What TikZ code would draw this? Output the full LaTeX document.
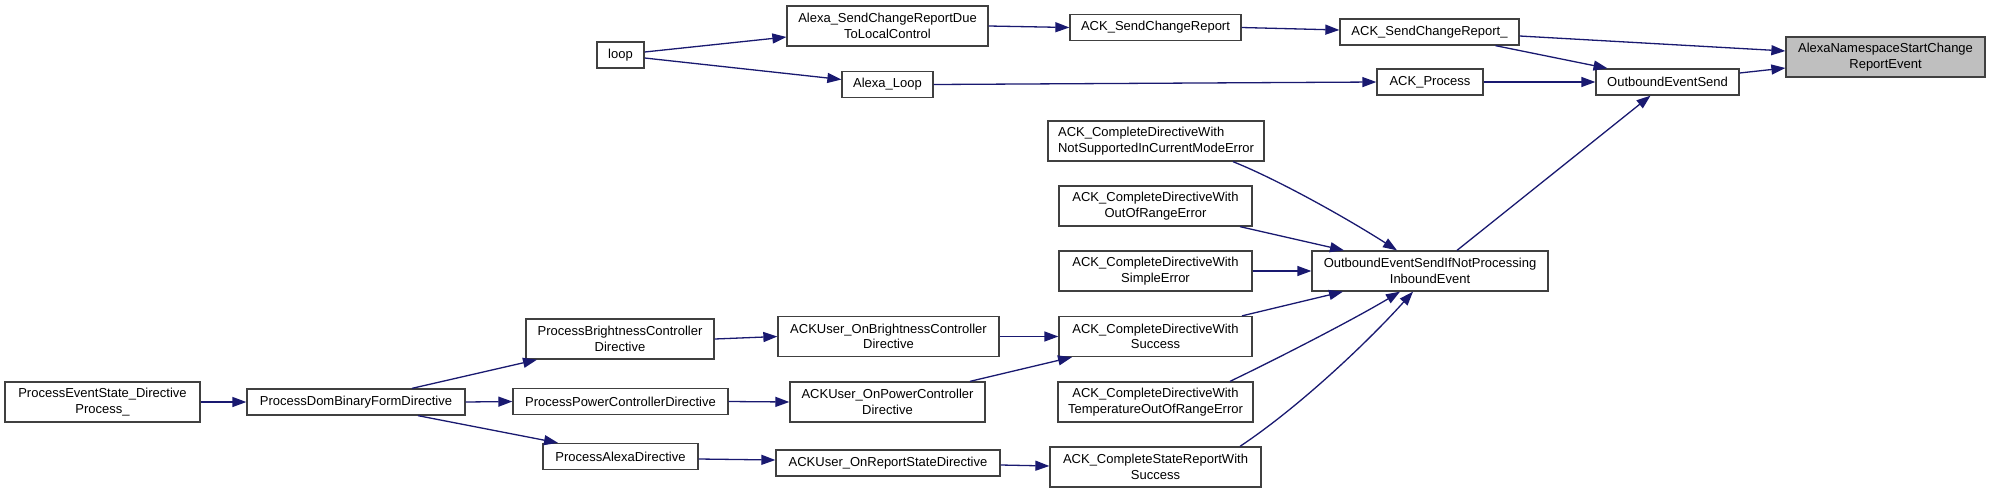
\documentclass[tikz,border=0pt]{standalone}
\usepackage{fontspec}
\setmainfont{Liberation Sans}
\usetikzlibrary{arrows.meta,calc}
\definecolor{edgeblue}{RGB}{25,25,112}
\definecolor{nodeborder}{RGB}{64,64,64}
\definecolor{tgtfill}{RGB}{191,191,191}
\tikzset{
  fn/.style={draw=nodeborder, fill=white, line width=1.3pt, inner sep=0pt,
    align=center, font=\fontsize{13}{15.5}\selectfont},
  tgt/.style={fn, fill=tgtfill},
  call/.style={draw=edgeblue, line width=1.3pt,
    -{Triangle[length=14pt,width=10pt]}, color=edgeblue},
}
\begin{document}
\begin{tikzpicture}[x=1pt,y=-1pt]
\useasboundingbox (0,0) rectangle (1991,493);
% nodes
\node[tgt, minimum width=199, minimum height=40] (tgt) at (1885.5,57) {AlexaNamespaceStartChange\\ReportEvent};
\node[fn, minimum width=143, minimum height=26] (oes) at (1667.5,82) {OutboundEventSend};
\node[fn, minimum width=179, minimum height=26] (scrU) at (1429.5,32) {ACK\_SendChangeReport\_};
\node[fn, minimum width=106, minimum height=26] (proc) at (1430,82) {ACK\_Process};
\node[fn, minimum width=171, minimum height=26] (scr) at (1155.5,27.5) {ACK\_SendChangeReport};
\node[fn, minimum width=201, minimum height=40] (asr) at (887.5,26) {Alexa\_SendChangeReportDue\\ToLocalControl};
\node[fn, minimum width=91, minimum height=26] (aloop) at (887.5,84.5) {Alexa\_Loop};
\node[fn, minimum width=47, minimum height=26] (loop) at (620.5,55) {loop};
\node[fn, minimum width=216, minimum height=40, align=left] (ns) at (1156,141) {ACK\_CompleteDirectiveWith\\NotSupportedInCurrentModeError};
\node[fn, minimum width=193, minimum height=40] (oor) at (1155.5,206) {ACK\_CompleteDirectiveWith\\OutOfRangeError};
\node[fn, minimum width=193, minimum height=40] (se) at (1155.5,271) {ACK\_CompleteDirectiveWith\\SimpleError};
\node[fn, minimum width=236, minimum height=40] (oesin) at (1430,271) {OutboundEventSendIfNotProcessing\\InboundEvent};
\node[fn, minimum width=193, minimum height=40] (suc) at (1155.5,336.5) {ACK\_CompleteDirectiveWith\\Success};
\node[fn, minimum width=195, minimum height=40] (temp) at (1155.5,402) {ACK\_CompleteDirectiveWith\\TemperatureOutOfRangeError};
\node[fn, minimum width=211, minimum height=40] (csr) at (1155.5,467) {ACK\_CompleteStateReportWith\\Success};
\node[fn, minimum width=221, minimum height=40] (ubr) at (888.5,336.5) {ACKUser\_OnBrightnessController\\Directive};
\node[fn, minimum width=195, minimum height=40] (upw) at (887.5,402) {ACKUser\_OnPowerController\\Directive};
\node[fn, minimum width=224, minimum height=26] (urs) at (888,463) {ACKUser\_OnReportStateDirective};
\node[fn, minimum width=188, minimum height=40] (pbr) at (620,339) {ProcessBrightnessController\\Directive};
\node[fn, minimum width=215, minimum height=26] (ppw) at (620.5,401.5) {ProcessPowerControllerDirective};
\node[fn, minimum width=155, minimum height=26] (pal) at (620.5,456.5) {ProcessAlexaDirective};
\node[fn, minimum width=218, minimum height=26] (pdb) at (356,402) {ProcessDomBinaryFormDirective};
\node[fn, minimum width=195, minimum height=40] (pes) at (102.5,402) {ProcessEventState\_Directive\\Process\_};
% edges
\draw[call] ([shift={(0,4)}]scrU.east) -- ([shift={(0,-6)}]tgt.west);
\draw[call] ([shift={(0,-9)}]oes.east) -- ([shift={(0,11)}]tgt.west);
\draw[call] ([shift={(66,0)}]scrU.south) -- ([shift={(-60,0)}]oes.north);
\draw[call] (proc.east) -- (oes.west);
\draw[call] (scr.east) -- ([shift={(0,-2)}]scrU.west);
\draw[call] (asr.east) -- (scr.west);
\draw[call] ([shift={(0,-3)}]loop.east) -- ([shift={(0,11)}]asr.west);
\draw[call] ([shift={(0,3)}]loop.east) -- ([shift={(0,-5)}]aloop.west);
\draw[call] (aloop.east) -- (proc.west);
\draw[call] ([shift={(27,0)}]oesin.north) -- ([shift={(-17,0)}]oes.south);
\draw[call] ([shift={(77,0)}]ns.south) .. controls +(45,18) and +(-50,-32) .. ([shift={(-33,0)}]oesin.north);
\draw[call] ([shift={(84.5,0)}]oor.south) -- ([shift={(-86,0)}]oesin.north);
\draw[call] (se.east) -- (oesin.west);
\draw[call] ([shift={(86.5,0)}]suc.north) -- ([shift={(-87,0)}]oesin.south);
\draw[call] ([shift={(74.5,0)}]temp.north) .. controls +(50,-24) and +(-45,27) .. ([shift={(-30,0)}]oesin.south);
\draw[call] ([shift={(84.5,0)}]csr.north) .. controls +(60,-40) and +(-45,50) .. ([shift={(-17,0)}]oesin.south);
\draw[call] (ubr.east) -- (suc.west);
\draw[call] ([shift={(82.5,0)}]upw.north) -- ([shift={(-83.5,0)}]suc.south);
\draw[call] ([shift={(0,2)}]urs.east) -- ([shift={(0,-1)}]csr.west);
\draw[call] (pbr.east) -- (ubr.west);
\draw[call] (ppw.east) -- (upw.west);
\draw[call] ([shift={(0,2.5)}]pal.east) -- ([shift={(0,-3)}]urs.west);
\draw[call] ([shift={(56,0)}]pdb.north) -- ([shift={(-83,0)}]pbr.south);
\draw[call] (pdb.east) -- (ppw.west);
\draw[call] ([shift={(62,0)}]pdb.south) -- ([shift={(-62.5,0)}]pal.north);
\draw[call] (pes.east) -- (pdb.west);
\end{tikzpicture}
\end{document}
